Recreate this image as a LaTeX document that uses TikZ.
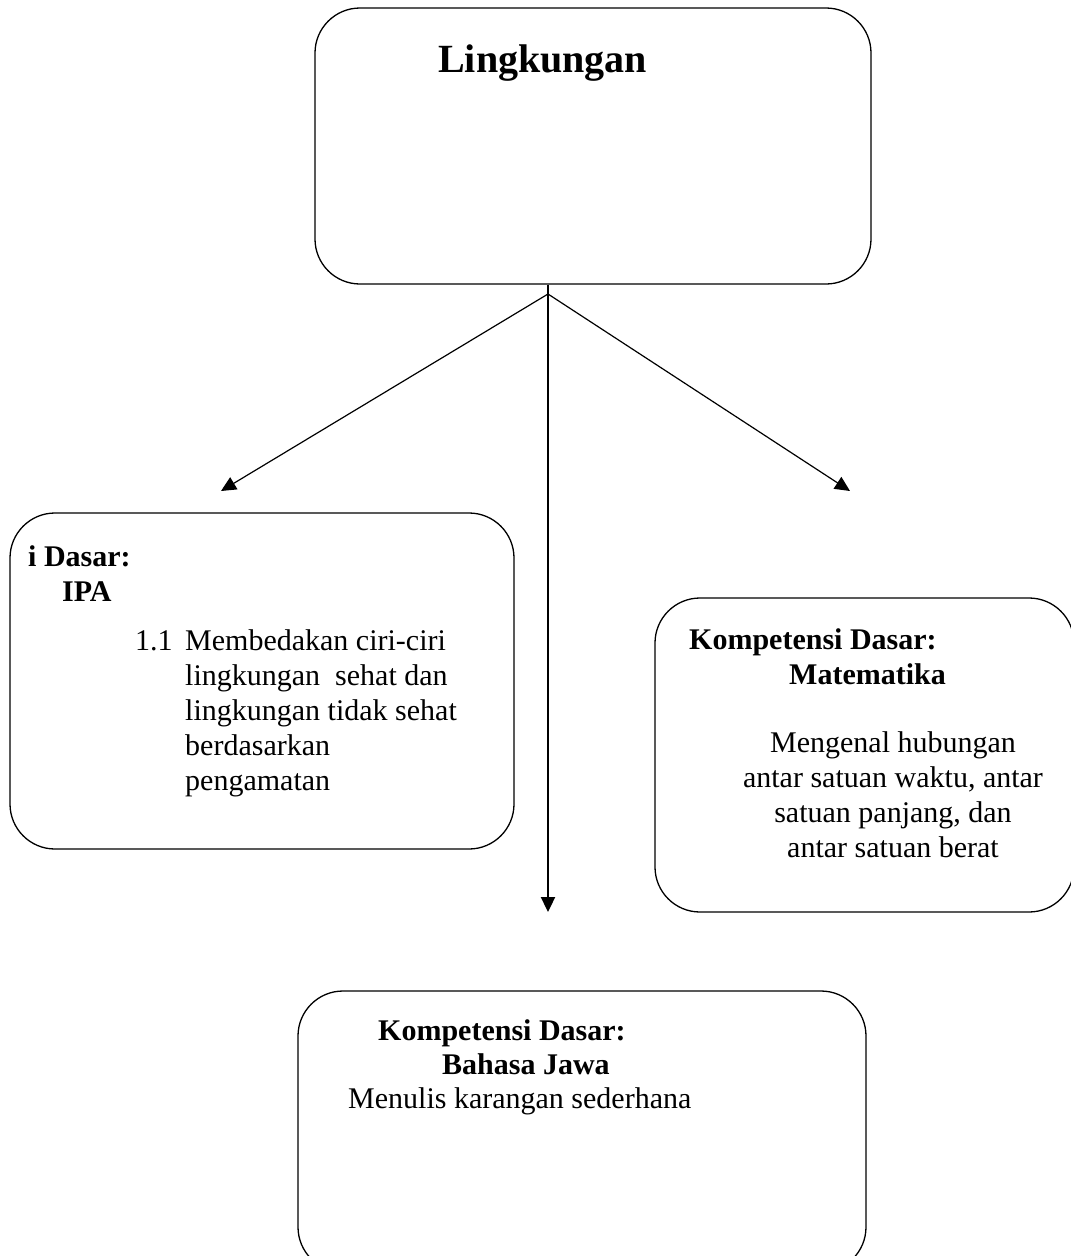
\documentclass[tikz,border=0pt]{standalone}
\usepackage{fontspec}
\setmainfont{Liberation Serif}
\usetikzlibrary{arrows.meta}

\begin{document}
\begin{tikzpicture}[x=1pt, y=-1pt,
  box/.style={draw, line width=1.3pt, rounded corners=45pt, inner sep=0pt},
  txt/.style={anchor=base west, inner sep=0pt, font=\fontsize{30}{35}\selectfont},
  head/.style={txt, font=\fontsize{30}{35}\selectfont\bfseries},
  tip/.style={-{Triangle[length=15pt,width=14pt]}}]
\useasboundingbox (0,0) rectangle (1071,1256);
% Boxes
\node[box, minimum width=556, minimum height=276] (top) at (593,146) {};
\node[box, minimum width=504, minimum height=336] (ipa) at (262,681) {};
\node[box, minimum width=419, minimum height=314] (mtk) at (864.5,755) {};
\node[box, minimum width=568, minimum height=281] (jawa) at (582,1131.5) {};
% Texts (multi-line ones sit on their last baseline)
\node[head, font=\fontsize{40}{46}\selectfont\bfseries] (ling) at (438,72) {Lingkungan};
\node[head] (ipa1) at (28,566) {i Dasar:};
\node[head] (ipa2) at (62,601) {IPA};
\node[txt] (ipa3) at (135,650) {1.1};
\node[txt, align=left] (ipa4) at (185,790) {Membedakan ciri-ciri\\lingkungan\ \ sehat dan\\lingkungan tidak sehat\\berdasarkan\\pengamatan};
\node[head] (mtk1) at (689,649) {Kompetensi Dasar:};
\node[head] (mtk2) at (789,684) {Matematika};
\node[txt, anchor=base, align=center] (mtk3) at (893,857) {Mengenal hubungan\\antar satuan waktu, antar\\satuan panjang, dan\\antar satuan berat};
\node[head] (jawa1) at (378,1040) {Kompetensi Dasar:};
\node[head] (jawa2) at (442,1074) {Bahasa Jawa};
\node[txt] (jawa3) at (348,1108) {Menulis karangan sederhana};
% Arrows
\coordinate (fork) at (548,294);
\coordinate (endL) at (221,491);
\coordinate (endR) at (850,491);
\coordinate (endB) at (548,912);
\draw[line width=2.3pt, tip] (top.south -| fork) -- (endB);
\draw[line width=1.2pt, tip] (fork) -- (endL);
\draw[line width=1.2pt, tip] (fork) -- (endR);
\end{tikzpicture}
\end{document}
